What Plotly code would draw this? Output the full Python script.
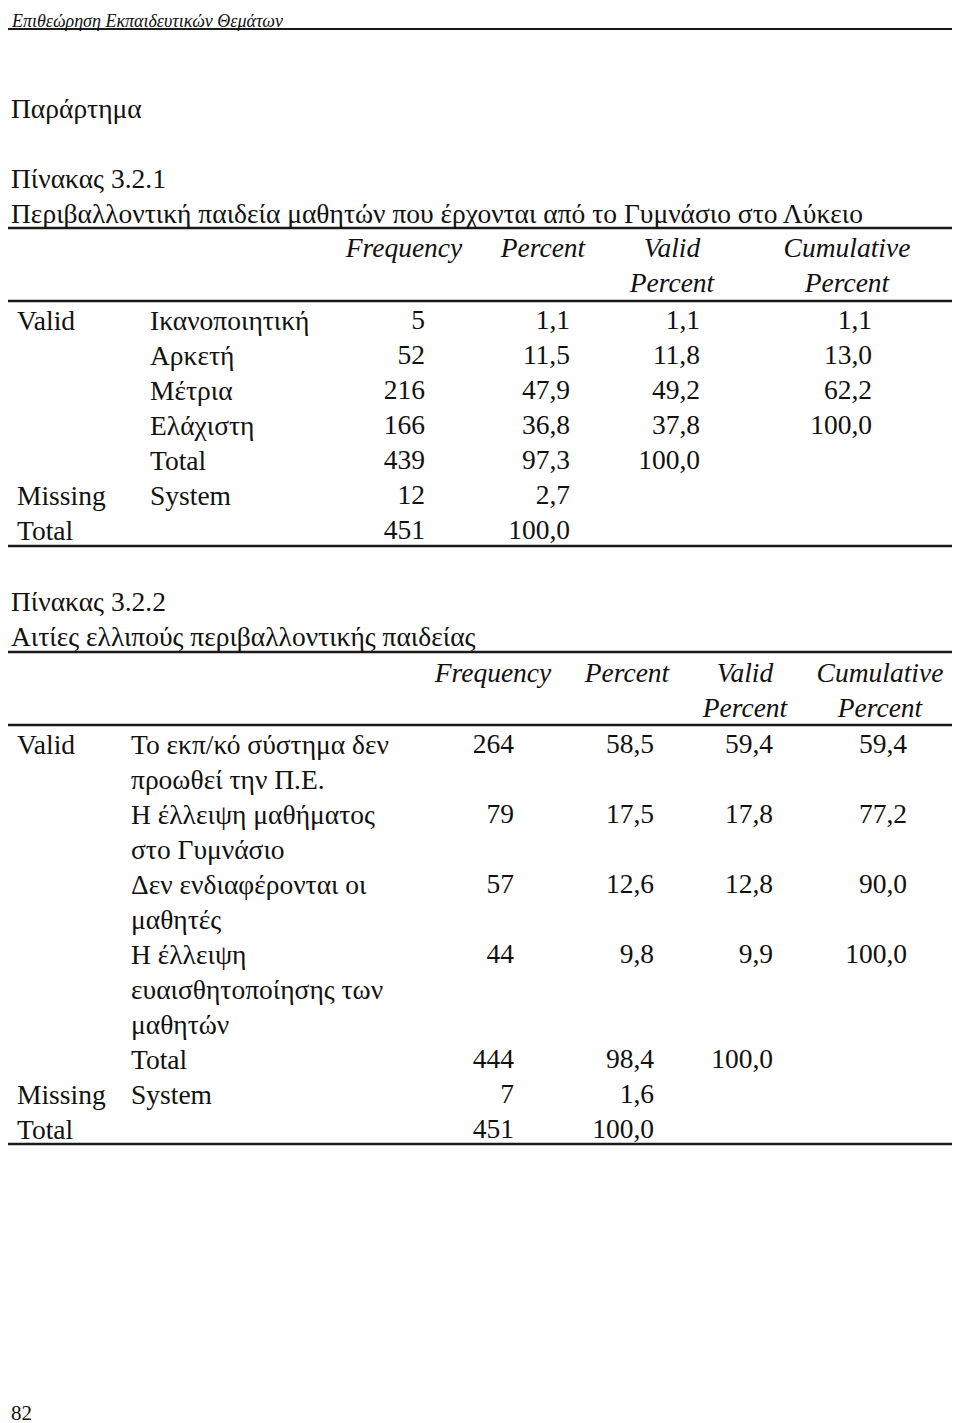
import plotly.graph_objects as go

# ---------------- data ----------------
page_header = "Επιθεώρηση Εκπαιδευτικών Θεμάτων"
section_title = "Παράρτημα"
page_number = "82"

col_heads_top = ["Frequency", "Percent", "Valid", "Cumulative"]
col_heads_bot = ["", "", "Percent", "Percent"]

t1_number = "Πίνακας 3.2.1"
t1_title = "Περιβαλλοντική παιδεία μαθητών που έρχονται από το Γυμνάσιο στο Λύκειο"
t1_groups = ["Valid", "", "", "", "", "Missing", "Total"]
t1_labels = [["Ικανοποιητική"], ["Αρκετή"], ["Μέτρια"], ["Ελάχιστη"], ["Total"], ["System"], [""]]
t1_freq = [5, 52, 216, 166, 439, 12, 451]
t1_pct = [1.1, 11.5, 47.9, 36.8, 97.3, 2.7, 100.0]
t1_valid = [1.1, 11.8, 49.2, 37.8, 100.0, None, None]
t1_cum = [1.1, 13.0, 62.2, 100.0, None, None, None]

t2_number = "Πίνακας 3.2.2"
t2_title = "Αιτίες ελλιπούς περιβαλλοντικής παιδείας"
t2_groups = ["Valid", "", "", "", "", "Missing", "Total"]
t2_labels = [
    ["Το εκπ/κό σύστημα δεν", "προωθεί την Π.Ε."],
    ["Η έλλειψη μαθήματος", "στο Γυμνάσιο"],
    ["Δεν ενδιαφέρονται οι", "μαθητές"],
    ["Η έλλειψη", "ευαισθητοποίησης των", "μαθητών"],
    ["Total"],
    ["System"],
    [""],
]
t2_freq = [264, 79, 57, 44, 444, 7, 451]
t2_pct = [58.5, 17.5, 12.6, 9.8, 98.4, 1.6, 100.0]
t2_valid = [59.4, 17.8, 12.8, 9.9, 100.0, None, None]
t2_cum = [59.4, 77.2, 90.0, 100.0, None, None, None]

# ---------------- styling / layout ----------------
FONT = "Liberation Serif"
FS = 27.5
INK = "#111111"
ROW_H = 35
OFF = 8  # browser body margin compensation
NUM_DY = 2  # align scatter text baseline with annotation labels


def fmt(v):
    return "" if v is None else f"{v:.1f}".replace(".", ",")


fig = go.Figure()
annotations = []
shapes = []


def text_trace(xs, ys, texts, pos, size=FS):
    fig.add_trace(go.Scatter(
        x=xs, y=ys, text=texts, mode="text", textposition=pos,
        textfont=dict(family=FONT, size=size, color=INK),
        hoverinfo="skip", showlegend=False, cliponaxis=False))


def hline(y, w=2.5, x0=OFF, x1=958):
    shapes.append(dict(type="line", xref="x", yref="y", x0=x0, x1=x1, y0=y, y1=y,
                       line=dict(color="#1a1a1a", width=w)))


def label(x, y, txt, size=FS, italic=False, yanchor="middle"):
    annotations.append(dict(xref="x", yref="y", x=x, y=y, xanchor="left", yanchor=yanchor,
                            text=f"<i>{txt}</i>" if italic else txt, showarrow=False,
                            font=dict(family=FONT, size=size, color=INK)))


LEFT = OFF + 0.5

# page header
label(LEFT, OFF + 0.5, page_header, size=18, italic=True, yanchor="top")
hline(29, w=2)
label(LEFT, 108, section_title)
label(LEFT, 1413, page_number, size=21)


def draw_table(y_num, y_title, y_top, y_h1, y_h2, y_hl, y_row0,
               head_x, num_x, group_x, label_x,
               number, title, groups, labels, freq, pct, valid, cum, y_bottom_gap):
    label(LEFT, y_num, number)
    label(LEFT, y_title, title)
    hline(y_top)
    fig.add_trace(go.Scatter(
        x=head_x, y=[y_h1 + NUM_DY] * 4, text=[f"<i>{t}</i>" for t in col_heads_top],
        mode="text", textposition="middle center",
        textfont=dict(family=FONT, size=FS, color=INK), hoverinfo="skip",
        showlegend=False, cliponaxis=False))
    fig.add_trace(go.Scatter(
        x=head_x, y=[y_h2 + NUM_DY] * 4, text=[f"<i>{t}</i>" if t else "" for t in col_heads_bot],
        mode="text", textposition="middle center",
        textfont=dict(family=FONT, size=FS, color=INK), hoverinfo="skip",
        showlegend=False, cliponaxis=False))
    hline(y_hl)
    slot = 0
    row_y = []
    for lines in labels:
        row_y.append(y_row0 + slot * ROW_H)
        for j, ln in enumerate(lines):
            if ln:
                label(label_x, y_row0 + (slot + j) * ROW_H, ln)
        slot += len(lines)
    for g, y in zip(groups, row_y):
        if g:
            label(group_x, y, g)
    cols = [[str(v) for v in freq], [fmt(v) for v in pct], [fmt(v) for v in valid], [fmt(v) for v in cum]]
    ys = [y + NUM_DY for y in row_y]
    for cx, vals in zip(num_x, cols):
        text_trace([cx] * len(vals), ys, vals, "middle left")
    hline(row_y[-1] + y_bottom_gap)


draw_table(178, 213, 228, 248, 283, 301, 320,
           [404, 543, 672, 847], [425, 570, 700, 872], 15, 148,
           t1_number, t1_title, t1_groups, t1_labels, t1_freq, t1_pct, t1_valid, t1_cum, 16)
draw_table(601, 636, 652, 673, 708, 725, 744,
           [493, 627, 745, 880], [514, 654, 773, 907], 15, 129,
           t2_number, t2_title, t2_groups, t2_labels, t2_freq, t2_pct, t2_valid, t2_cum, 15)

fig.update_layout(
    width=960, height=1423,
    margin=dict(l=0, r=0, t=0, b=0),
    paper_bgcolor="white", plot_bgcolor="white",
    xaxis=dict(range=[OFF, 960 + OFF], visible=False, fixedrange=True),
    yaxis=dict(range=[1423 + OFF, OFF], visible=False, fixedrange=True),
    annotations=annotations, shapes=shapes, showlegend=False,
)

fig.write_html("out.html")
